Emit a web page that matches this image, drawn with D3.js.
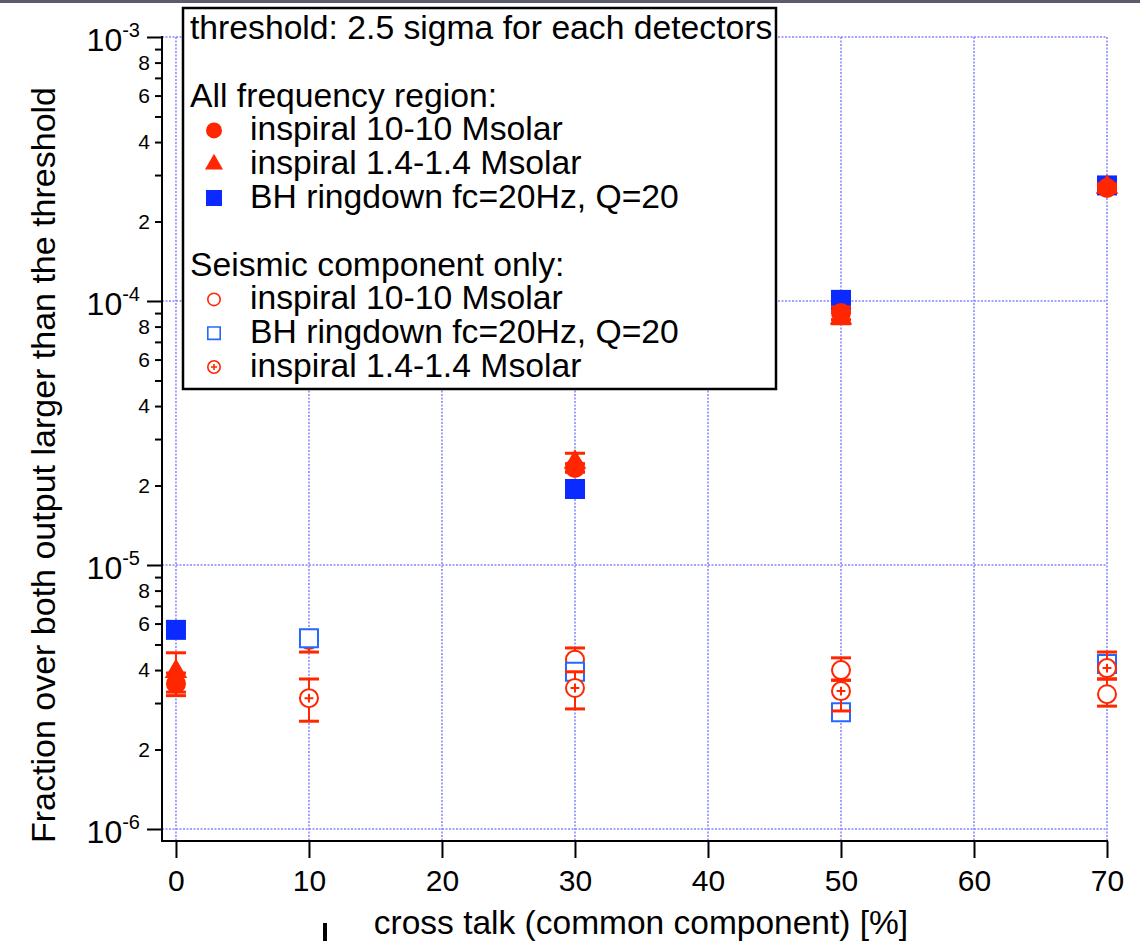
<!DOCTYPE html>
<html>
<head>
<meta charset="utf-8">
<script src="https://cdn.jsdelivr.net/npm/d3@7"></script>
<style>
  body { margin: 0; background: #fff; }
  #chart { width: 1140px; height: 941px; }
  text { font-family: "Liberation Sans", Arial, Helvetica, sans-serif; fill: #000; }
</style>
</head>
<body>
<div id="chart"></div>
<script>
// cross talk positions (x) for each group of points
const xAll = [0, 30, 50, 70];
const xSeismic = [10, 30, 50, 70];

// all frequency region (filled markers)
const insp10All = [3.55e-6, 2.33e-5, 9.0e-5, 2.68e-4];
const insp10AllLo = [3.2e-6, 2.25e-5, 8.5e-5, 2.62e-4];
const insp10AllHi = [3.9e-6, 2.42e-5, 9.5e-5, 2.74e-4];
const insp14All = [3.95e-6, 2.45e-5, 8.63e-5, 2.7e-4];
const insp14AllLo = [3.3e-6, 2.25e-5, 8.2e-5, 2.62e-4];
const insp14AllHi = [4.65e-6, 2.65e-5, 9.1e-5, 2.78e-4];
const bhAll = [5.68e-6, 1.94e-5, 1.01e-4, 2.74e-4];

// seismic component only (open markers)
const insp10Seis = [5.2e-6, 4.38e-6, 4.0e-6, 3.24e-6];
const insp10SeisLo = [4.68e-6, 4.0e-6, 3.66e-6, 2.92e-6];
const insp10SeisHi = [5.6e-6, 4.85e-6, 4.45e-6, 3.7e-6];
const bhSeis = [5.28e-6, 3.94e-6, 2.77e-6, 4.22e-6];
const insp14Seis = [3.13e-6, 3.42e-6, 3.33e-6, 4.07e-6];
const insp14SeisLo = [2.56e-6, 2.85e-6, 2.8e-6, 3.7e-6];
const insp14SeisHi = [3.7e-6, 3.94e-6, 3.66e-6, 4.68e-6];

const xTicks = [0, 10, 20, 30, 40, 50, 60, 70];
const yDecades = [1e-3, 1e-4, 1e-5, 1e-6];
const yMinorLabels = ["2", "4", "6", "8"];

const legendLines = [
  { text: "threshold: 2.5 sigma for each detectors", sym: null },
  { text: "", sym: null },
  { text: "All frequency region:", sym: null },
  { text: "inspiral 10-10 Msolar", sym: "fcircle" },
  { text: "inspiral 1.4-1.4 Msolar", sym: "ftri" },
  { text: "BH ringdown fc=20Hz, Q=20", sym: "fsquare" },
  { text: "", sym: null },
  { text: "Seismic component only:", sym: null },
  { text: "inspiral 10-10 Msolar", sym: "ocircle" },
  { text: "BH ringdown fc=20Hz, Q=20", sym: "osquare" },
  { text: "inspiral 1.4-1.4 Msolar", sym: "pcircle" }
];

const red = "#ff2600";
const blue = "#0a2aff";
const lightBlue = "#2468ff";
const gridColor = "#8585ff";

const width = 1140, height = 941;
const svg = d3.select("#chart").append("svg")
  .attr("width", width)
  .attr("height", height);

// thin dark band along the top
svg.append("rect").attr("x", 0).attr("y", 0).attr("width", width).attr("height", 3).attr("fill", "#5b5b6e");

const x = d3.scaleLinear().domain([-1.05, 70]).range([162, 1107]);
const y = d3.scaleLog().domain([1e-6, 1e-3]).range([829, 37]);
const axisBottomY = 841;

// grid
const grid = svg.append("g").attr("stroke", gridColor).attr("stroke-width", 1.5).attr("stroke-dasharray", "2,1.5");
grid.selectAll("line.v").data(xTicks).enter().append("line")
  .attr("x1", d => x(d)).attr("x2", d => x(d))
  .attr("y1", y(1e-3)).attr("y2", axisBottomY);
grid.selectAll("line.h").data(yDecades).enter().append("line")
  .attr("x1", x.range()[0]).attr("x2", x(70))
  .attr("y1", d => y(d)).attr("y2", d => y(d));

// axes lines
svg.append("line").attr("x1", 162).attr("x2", 162).attr("y1", 36).attr("y2", axisBottomY + 1)
  .attr("stroke", "#000").attr("stroke-width", 2);
svg.append("line").attr("x1", 161).attr("x2", x(70) + 1).attr("y1", axisBottomY).attr("y2", axisBottomY)
  .attr("stroke", "#000").attr("stroke-width", 2);

// x axis
const xAxis = d3.axisBottom(x).tickValues(xTicks).tickSize(17).tickPadding(12).tickFormat(d3.format("d"));
const gx = svg.append("g").attr("transform", `translate(0,${axisBottomY})`).call(xAxis);
gx.select(".domain").remove();
gx.selectAll(".tick line").attr("stroke", "#000").attr("stroke-width", 2);
gx.selectAll(".tick text").attr("font-size", 30).attr("font-family", "Liberation Sans, Arial, sans-serif");

// y axis: major decades
const gyMajor = svg.append("g").attr("transform", "translate(162,0)")
  .call(d3.axisLeft(y).tickValues(yDecades).tickSize(15).tickFormat(""));
gyMajor.select(".domain").remove();
gyMajor.selectAll(".tick line").attr("stroke", "#000").attr("stroke-width", 2);

const majorLabel = svg.append("g").selectAll("text").data(yDecades).enter().append("text")
  .attr("x", 140).attr("y", d => y(d) + 14).attr("text-anchor", "end").attr("font-size", 32);
majorLabel.append("tspan").text("10");
majorLabel.append("tspan").attr("dy", -14).attr("font-size", 20).text(d => String(Math.round(Math.log10(d))));

// y axis: minor ticks
const minors = [];
[1e-6, 1e-5, 1e-4].forEach(dec => { for (let k = 2; k <= 9; k++) minors.push(k * dec); });
const gyMinor = svg.append("g").attr("transform", "translate(162,0)")
  .call(d3.axisLeft(y).tickValues(minors).tickSize(7).tickFormat(""));
gyMinor.select(".domain").remove();
gyMinor.selectAll(".tick line").attr("stroke", "#000").attr("stroke-width", 2);

const mantissa = v => String(Math.round(v / Math.pow(10, Math.floor(Math.log10(v) + 1e-9))));
const minorLabelled = minors.filter(v => yMinorLabels.includes(mantissa(v)));
svg.append("g").selectAll("text").data(minorLabelled).enter().append("text")
  .attr("x", 150).attr("y", d => y(d) + 7).attr("text-anchor", "end").attr("font-size", 21)
  .text(mantissa);

// axis titles
svg.append("text").attr("x", 641).attr("y", 934).attr("text-anchor", "middle").attr("font-size", 33.5)
  .text("cross talk (common component) [%]");
svg.append("text").attr("transform", "translate(55,465) rotate(-90)").attr("text-anchor", "middle").attr("font-size", 34)
  .text("Fraction over both output larger than the threshold");

// stray mark below the axis
svg.append("rect").attr("x", 323).attr("y", 923).attr("width", 4).attr("height", 18).attr("fill", "#000");

// markers
function drawErrors(g, xs, lo, hi, color) {
  const e = g.append("g").attr("stroke", color);
  xs.forEach((xv, i) => {
    e.append("line").attr("x1", x(xv)).attr("x2", x(xv)).attr("y1", y(lo[i])).attr("y2", y(hi[i])).attr("stroke-width", 2);
    [lo[i], hi[i]].forEach(v => {
      e.append("line").attr("x1", x(xv) - 10).attr("x2", x(xv) + 10).attr("y1", y(v)).attr("y2", y(v)).attr("stroke-width", 3);
    });
  });
}

function symbolPath(type, s) {
  if (type.endsWith("circle")) return d3.symbol(d3.symbolCircle, Math.PI * s * s / 4)();
  if (type.endsWith("square")) return d3.symbol(d3.symbolSquare, s * s)();
  return d3.symbol(d3.symbolTriangle, s * s * 0.55)();
}

function drawMarker(g, type, cx, cy, s) {
  const color = type === "osquare" ? lightBlue : (type === "fsquare" ? blue : red);
  const filled = type.startsWith("f");
  const sw = s > 15 ? 2 : 1.6;
  const p = g.append("path").attr("d", symbolPath(type, filled ? s : s - sw))
    .attr("transform", `translate(${cx},${cy})`);
  if (filled) p.attr("fill", color);
  else p.attr("fill", "#fff").attr("stroke", color).attr("stroke-width", sw);
  if (type === "pcircle") {
    const h = s * 0.22;
    g.append("path").attr("d", `M${cx - h},${cy}H${cx + h}M${cx},${cy - h}V${cy + h}`)
      .attr("stroke", color).attr("stroke-width", sw).attr("fill", "none");
  }
}

function drawSeries(xs, vals, type, lo, hi, color) {
  const g = svg.append("g");
  if (lo) drawErrors(g, xs, lo, hi, color);
  xs.forEach((xv, i) => drawMarker(g, type, x(xv), y(vals[i]), 20));
}

drawSeries(xAll, bhAll, "fsquare", null, null, blue);
drawSeries(xAll, insp14All, "ftri", insp14AllLo, insp14AllHi, red);
drawSeries(xAll, insp10All, "fcircle", insp10AllLo, insp10AllHi, red);
drawSeries(xSeismic, insp10Seis, "ocircle", insp10SeisLo, insp10SeisHi, red);
drawSeries(xSeismic, bhSeis, "osquare", null, null, lightBlue);
drawSeries(xSeismic, insp14Seis, "pcircle", insp14SeisLo, insp14SeisHi, red);

// legend
const lg = svg.append("g");
lg.append("rect").attr("x", 183).attr("y", 8).attr("width", 593).attr("height", 381)
  .attr("fill", "#fff").attr("stroke", "#000").attr("stroke-width", 2.5);
legendLines.forEach((d, i) => {
  const base = 39 + i * 33.8;
  if (!d.text) return;
  lg.append("text").attr("x", d.sym ? 250 : 190).attr("y", base).attr("font-size", 33.7).text(d.text);
  if (d.sym) {
    const sz = d.sym.startsWith("f") ? 16 : 14;
    drawMarker(lg, d.sym, 214, base - 10, sz);
  }
});
</script>
</body>
</html>
